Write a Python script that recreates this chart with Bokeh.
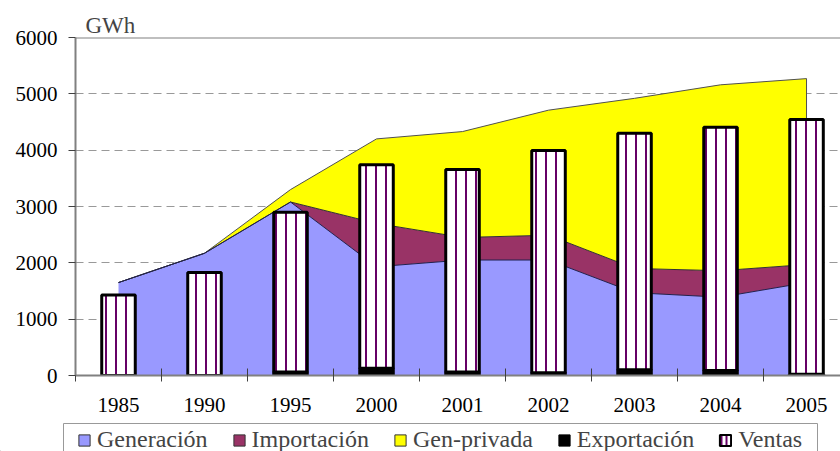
import numpy as np
from bokeh.plotting import figure
from bokeh.layouts import column, row
from bokeh.models import (Range1d, FixedTicker, Legend, LegendItem, Span)
from bokeh.embed import file_html
from bokeh.resources import INLINE

# ---- data ----
years = ["1985", "1990", "1995", "2000", "2001", "2002", "2003", "2004", "2005"]
generacion = [1650, 2170, 3080, 1930, 2050, 2050, 1470, 1390, 1650]
importacion = [0, 0, 0, 770, 400, 440, 430, 470, 320]
gen_privada = [0, 0, 220, 1500, 1880, 2220, 3020, 3300, 3300]
exportacion = [0, 0, 60, 130, 60, 50, 100, 90, 20]
ventas = [1430, 1830, 2840, 3610, 3595, 3945, 4200, 4315, 4525]
y_ticks = [0, 1000, 2000, 3000, 4000, 5000, 6000]
series_names = ["Generación", "Importación", "Gen-privada", "Exportación", "Ventas"]

FONT = "Liberation Serif"
C_GEN, C_IMP, C_PRI = "#9999FF", "#993366", "#FFFF00"
STRIPE = "#660066"

x = list(range(len(years)))
g = np.array(generacion, dtype=float)
gi = g + np.array(importacion)
gt = gi + np.array(gen_privada)
exp_top = np.array(exportacion, dtype=float)
ven_top = exp_top + np.array(ventas)

p = figure(width=840, height=421, x_range=Range1d(-0.5, 8.395), y_range=Range1d(0, 6000),
           output_backend="svg", toolbar_location=None,
           min_border_left=75, min_border_top=37, min_border_bottom=46, min_border_right=0)
p.outline_line_color = None

# grid
p.xgrid.visible = False
p.ygrid.ticker = FixedTicker(ticks=y_ticks)
p.ygrid.grid_line_color = "#999999"
p.ygrid.grid_line_dash = "8 5"
p.ygrid.grid_line_width = 1

# stacked areas
p.varea(x=x, y1=0, y2=g, fill_color=C_GEN)
p.varea(x=x, y1=g, y2=gi, fill_color=C_IMP)
p.varea(x=x, y1=gi, y2=gt, fill_color=C_PRI)
p.line(x=x, y=gt, line_color="#505050", line_width=1)
p.line(x=x, y=gi, line_color="#303030", line_width=1)
p.line(x=x, y=g, line_color="#202050", line_width=1)
p.segment(x0=[x[-1]], y0=[gi[-1]], x1=[x[-1]], y1=[gt[-1]], line_color="#505050", line_width=1)

# stacked bars
bw = 0.39
p.vbar(x=x, bottom=0, top=exp_top, width=bw, fill_color="black", line_color="black", line_width=3)
p.vbar(x=x, bottom=exp_top, top=ven_top, width=bw, fill_color="white",
       hatch_pattern="vertical_line", hatch_color=STRIPE, hatch_weight=2, hatch_scale=10,
       line_color="black", line_width=3)

p.add_layout(Span(location=6000, dimension="width", line_color="#808080", line_width=2))

# axes
ya = p.yaxis[0]
ya.ticker = FixedTicker(ticks=y_ticks)
ya.axis_line_color = "#808080"
ya.axis_line_width = 2
ya.major_tick_out = 7
ya.major_tick_in = 0
ya.major_tick_line_color = "#404040"
ya.minor_tick_line_color = None
ya.major_label_standoff = 11
ya.major_label_text_font = FONT
ya.major_label_text_font_size = "21px"
ya.major_label_text_color = "black"

xa = p.xaxis[0]
xa.ticker = FixedTicker(ticks=x, minor_ticks=[i - 0.5 for i in range(len(years) + 1)])
xa.major_label_overrides = {i: years[i] for i in x}
xa.major_tick_line_color = None
xa.major_tick_out = 0
xa.major_tick_in = 0
xa.minor_tick_in = 7
xa.minor_tick_out = 6
xa.minor_tick_line_color = "#404040"
xa.axis_line_color = "#808080"
xa.axis_line_width = 2
xa.major_label_standoff = 16
xa.major_label_text_font = FONT
xa.major_label_text_font_size = "21px"
xa.major_label_text_color = "black"

# unit title
p.title.text = "GWh"
p.title.text_font = FONT
p.title.text_font_size = "23px"
p.title.text_font_style = "normal"
p.title.align = "left"
p.title.offset = 10
p.title.standoff = 0

# ---- legend strip ----
q = figure(width=840, height=30, x_range=Range1d(0, 840), y_range=Range1d(0, 30),
           output_backend="svg", toolbar_location=None,
           x_axis_location=None, y_axis_location=None,
           min_border_left=0, min_border_right=0, min_border_top=0, min_border_bottom=0)
q.xgrid.visible = False
q.ygrid.visible = False
q.outline_line_color = None
q.quad(left=[63], right=[817], top=[28], bottom=[-10], fill_color="white",
       line_color="#999999", line_width=1)

hid = dict(x=[-1000], top=[0], bottom=[0], width=1)
r_gen = q.vbar(**hid, fill_color=C_GEN, line_color="#333333", line_width=1)
r_imp = q.vbar(**hid, fill_color=C_IMP, line_color="#333333", line_width=1)
r_pri = q.vbar(**hid, fill_color=C_PRI, line_color="#333333", line_width=1)
r_exp = q.vbar(**hid, fill_color="black", line_color="black", line_width=1)
r_ven = q.vbar(**hid, fill_color="white", hatch_pattern="vertical_line",
               hatch_color=STRIPE, hatch_weight=2, hatch_scale=5,
               line_color="black", line_width=2)
rends = [r_gen, r_imp, r_pri, r_exp, r_ven]

legend = Legend(items=[LegendItem(label=n, renderers=[r]) for n, r in zip(series_names, rends)],
                orientation="horizontal", location=(77, -2),
                padding=0, margin=0, spacing=24, label_standoff=6,
                glyph_width=14, glyph_height=14,
                label_text_font=FONT, label_text_font_size="24px",
                border_line_color=None, background_fill_alpha=0)
q.add_layout(legend, "center")

layout = column(p, row(q), spacing=0)
open("out.html", "w").write(file_html(layout, INLINE))
